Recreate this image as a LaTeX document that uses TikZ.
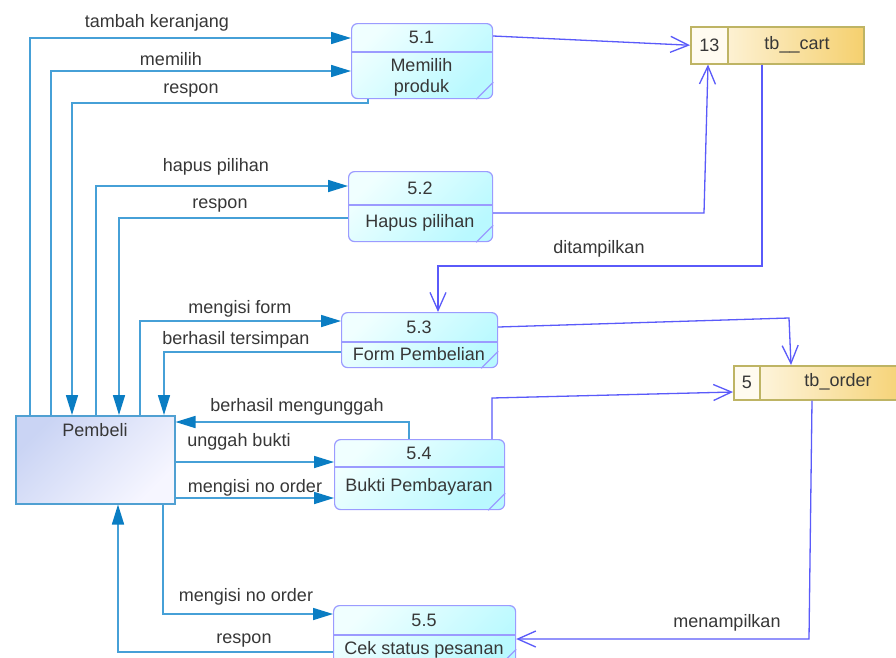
\documentclass[tikz,border=0pt]{standalone}
\usepackage{fontspec}
\setmainfont{Liberation Sans}
\usetikzlibrary{arrows.meta}
\definecolor{txt}{RGB}{55,55,55}
\definecolor{flowc}{RGB}{70,160,215}
\definecolor{flowa}{RGB}{10,125,195}
\definecolor{storec}{RGB}{90,90,250}
\definecolor{procb}{RGB}{155,155,255}
\definecolor{procl}{RGB}{240,255,255}
\definecolor{procd}{RGB}{185,249,255}
\definecolor{pemb}{RGB}{80,160,210}
\definecolor{pemd}{RGB}{202,212,244}
\definecolor{peml}{RGB}{246,246,255}
\definecolor{stb}{RGB}{190,180,100}
\definecolor{stl}{RGB}{255,250,238}
\definecolor{std}{RGB}{245,208,110}
\definecolor{stid}{RGB}{255,251,240}
\newcommand{\mkproc}[9]{%
  \node[proc,minimum width=#4pt,minimum height=#5pt] (#1) at (#2,#3) {};
  \draw[procline] (#1.west |- 0,#6) -- (#1.east |- 0,#6);
  \draw[procline] ([xshift=-17pt]#1.south east) -- ([yshift=17pt]#1.south east);
  \node[txtc] at ({#2+#4/2},{(#3+#6)/2}) {#7};
  \node[txtc] at ({#2+#4/2},{(#6+#3+#5)/2+#9}) {#8};
}
\begin{document}
\begin{tikzpicture}[x=1pt,y=-1pt,
  font=\fontsize{18pt}{21.5pt}\selectfont,
  lbl/.style={anchor=base,inner sep=0pt,text=txt},
  txtc/.style={inner sep=0pt,text=txt,align=center},
  proc/.style={draw=procb,line width=1.2pt,rounded corners=6pt,top color=procl,bottom color=procd,shading angle=45,anchor=north west,inner sep=0pt},
  procline/.style={draw=procb,line width=1.2pt},
  ext/.style={draw=pemb,line width=1.5pt,top color=pemd,bottom color=peml,shading angle=45,anchor=north west,inner sep=0pt},
  storebox/.style={draw=stb,line width=1.5pt,left color=stl,right color=std,anchor=north west,inner sep=0pt},
  storeid/.style={draw=stb,line width=1.5pt,fill=stid,anchor=north west,inner sep=0pt,text=txt},
  fin/.style={draw=flowc,line width=1.6pt,-{Triangle[length=20pt,width=12pt,color=flowa]}},
  fout/.style={draw=storec,line width=1.3pt,-{Straight Barb[length=18pt,width=16pt]}},
]
\useasboundingbox (0,0) rectangle (896,657);
\clip (0,0) rectangle (896,657);
\fill[white] (0,0) rectangle (896,657);

% external entity
\node[ext,minimum width=159pt,minimum height=88pt] (pembeli) at (15,415) {};
\node[lbl] at (95,436) {Pembeli};

% processes
\mkproc{p51}{351}{23}{141}{75}{52}{5.1}{Memilih\\produk}{2.5}
\mkproc{p52}{348}{171}{144}{70}{205}{5.2}{Hapus pilihan}{0}
\mkproc{p53}{341}{312}{156}{55}{342}{5.3}{Form Pembelian}{0}
\mkproc{p54}{334}{439}{170}{70}{467}{5.4}{Bukti Pembayaran}{-1}
\mkproc{p55}{333}{605}{182}{60}{635}{5.5}{Cek status pesanan}{0}

% data stores
\node[storebox,minimum width=173pt,minimum height=37pt] (cart) at (690,26) {};
\node[storeid,minimum width=37pt,minimum height=37pt] (cartid) at (690,26) {13};
\node[txtc] (cartname) at (797,44.5) {tb\_\_cart};
\node[storebox,minimum width=180pt,minimum height=34pt] (order) at (733,365) {};
\node[storeid,minimum width=26pt,minimum height=34pt] (orderid) at (733,365) {5};
\node[txtc] (ordername) at (838,382) {tb\_order};

% flows with Pembeli
\draw[fin] (pembeli.north -| 30,0) |- (p51.west |- 0,38);
\draw[fin] (pembeli.north -| 51,0) |- (p51.west |- 0,71);
\draw[fin] (p51.south -| 368,0) -- ++(0,4) -| (pembeli.north -| 72,0);
\draw[fin] (pembeli.north -| 96,0) |- (p52.west |- 0,186);
\draw[fin] (p52.west |- 0,218) -| (pembeli.north -| 119,0);
\draw[fin] (pembeli.north -| 140,0) |- (p53.west |- 0,321);
\draw[fin] (p53.west |- 0,352) -| (pembeli.north -| 164,0);
\draw[fin] (p54.north -| 409,0) |- (pembeli.east |- 0,422);
\draw[fin] (pembeli.east |- 0,462) -- (p54.west |- 0,462);
\draw[fin] (pembeli.east |- 0,498) -- (p54.west |- 0,498);
\draw[fin] (pembeli.south -| 163,0) |- (p55.west |- 0,614);
\draw[fin] (p55.west |- 0,652) -| (pembeli.south -| 118,0);

% flows with stores
\draw[fout] (p51.east |- 0,36) -- (cart.west);
\draw[fout] (p52.east |- 0,213) -- (704,213) -- (cart.south -| 708,0);
\draw[fout] (cart.south -| 762,0) -- (762,266) -| (p53.north -| 438,0);
\draw[fout] (p53.east |- 0,327) -- (789,318) -- (order.north -| 791,0);
\draw[fout] (p54.north -| 492,0) -- (492,398) -- (order.west |- 0,392);
\draw[fout] (order.south -| 812,0) -- (809,639) -- (p55.east |- 0,639);

% labels
\node[lbl] at (157,27) {tambah keranjang};
\node[lbl] at (171,65) {memilih};
\node[lbl] at (191,93) {respon};
\node[lbl] at (216,171) {hapus pilihan};
\node[lbl] at (220,208) {respon};
\node[lbl] at (240,313) {mengisi form};
\node[lbl] at (236,344) {berhasil tersimpan};
\node[lbl] at (297,411) {berhasil mengunggah};
\node[lbl] at (239,446) {unggah bukti};
\node[lbl] at (255,492) {mengisi no order};
\node[lbl] at (246,601) {mengisi no order};
\node[lbl] at (244,643) {respon};
\node[lbl] at (727,627) {menampilkan};
\node[lbl] at (599,253) {ditampilkan};
\end{tikzpicture}
\end{document}
